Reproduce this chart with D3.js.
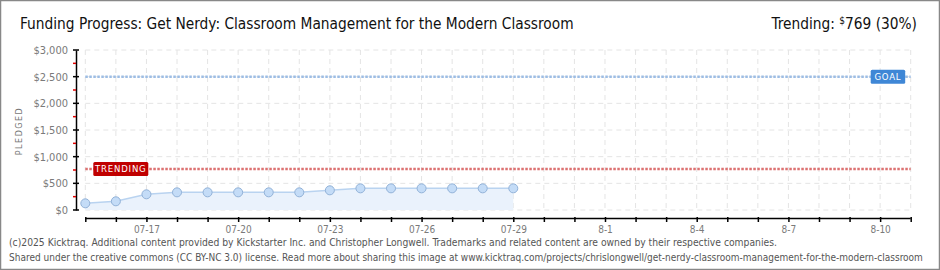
<!DOCTYPE html>
<html><head><meta charset="utf-8">
<script src="https://cdn.jsdelivr.net/npm/d3@7"></script>
<style>body{margin:0;background:#fff}svg{display:block}</style>
</head><body>
<svg id="c" width="940" height="270"></svg>
<script>
const dates = ["07-15","07-16","07-17","07-18","07-19","07-20","07-21","07-22","07-23","07-24","07-25","07-26","07-27","07-28","07-29"];
const pledged = [125,163,294,331,331,331,331,331,369,406,406,406,406,406,406];
const goal = 2500;
const trending = 769;
const yTicks = [0,500,1000,1500,2000,2500,3000];
const xTickLabels = ["07-17","07-20","07-23","07-26","07-29","8-1","8-4","8-7","8-10"];
const title = "Funding Progress: Get Nerdy: Classroom Management for the Modern Classroom";
const footer1 = "(c)2025 Kicktraq. Additional content provided by Kickstarter Inc. and Christopher Longwell. Trademarks and related content are owned by their respective companies.";
const footer2 = "Shared under the creative commons (CC BY-NC 3.0) license. Read more about sharing this image at www.kicktraq.com/projects/chrislongwell/get-nerdy-classroom-management-for-the-modern-classroom";

const svg = d3.select("#c");
const parse = s => { const [m,d] = s.split("-").map(Number); return new Date(2025, m-1, d); };
const x = d3.scaleTime().domain([new Date(2025,6,15), new Date(2025,7,11)]).range([85.3, 910.7]);
const y = d3.scaleLinear().domain([0,3000]).range([210,50]);

svg.append("rect").attr("x",0.5).attr("y",0.5).attr("width",939).attr("height",269)
  .attr("fill","#fff").attr("stroke","#888").attr("stroke-width",1.5);

// grid
const days = d3.timeDay.range(new Date(2025,6,15), new Date(2025,7,12));
svg.append("g").selectAll("line").data(days).join("line")
  .attr("x1",d=>x(d)).attr("x2",d=>x(d)).attr("y1",50).attr("y2",210)
  .attr("stroke","#e4e4e4").attr("stroke-dasharray","5,4");
svg.append("g").selectAll("line").data(yTicks).join("line")
  .attr("x1",85.3).attr("x2",910.7).attr("y1",d=>y(d)).attr("y2",d=>y(d))
  .attr("stroke","#e4e4e4").attr("stroke-dasharray","5,4");

// area + line
const pts = dates.map((d,i)=>({d:parse(d), v:pledged[i]}));
svg.append("path").datum(pts)
  .attr("d", d3.area().x(p=>x(p.d)).y0(y(0)).y1(p=>y(p.v)))
  .attr("fill","#eaf2fc");
svg.append("path").datum(pts)
  .attr("d", d3.line().x(p=>x(p.d)).y(p=>y(p.v)))
  .attr("fill","none").attr("stroke","#b9d3f0").attr("stroke-width",1.5);

// goal / trending lines
svg.append("line").attr("x1",85.3).attr("x2",910.7).attr("y1",y(goal)).attr("y2",y(goal))
  .attr("stroke","#9dbde4").attr("stroke-width",2.5).attr("stroke-dasharray","2.5,1.5");
svg.append("line").attr("x1",85.3).attr("x2",910.7).attr("y1",y(trending)).attr("y2",y(trending))
  .attr("stroke","#dc7272").attr("stroke-width",2.5).attr("stroke-dasharray","2.5,1.5");

// points
svg.append("g").selectAll("circle").data(pts).join("circle")
  .attr("cx",p=>x(p.d)).attr("cy",p=>y(p.v)).attr("r",4.5)
  .attr("fill","#c4dcf7").attr("stroke","#92b2d8").attr("stroke-width",1);

// labels on lines
function tag(xl, yc, w, txt, col){
  const g = svg.append("g");
  g.append("rect").attr("x",xl).attr("y",yc-7).attr("width",w).attr("height",14).attr("rx",1.5).attr("fill",col);
  g.append("text").attr("x",xl+w/2).attr("y",yc+3.5).attr("text-anchor","middle").attr("fill","#fff")
    .attr("font-family","DejaVu Sans Condensed, sans-serif").attr("font-size",9.5).attr("letter-spacing",0.8).text(txt);
}
tag(870.7, y(goal), 34.5, "GOAL", "#3f87d6");
tag(93.3, y(trending), 55, "TRENDING", "#c00000");

// y axis
const yAxis = d3.axisLeft(y).tickValues(yTicks).tickSize(0).tickPadding(8).tickFormat(d=>"$"+d3.format(",")(d));
const ya = svg.append("g").attr("transform","translate(76,0)").call(yAxis);
ya.select(".domain").attr("stroke","#000").attr("stroke-width",1.5);
ya.selectAll("text").attr("fill","#7a7a7a").attr("font-family","DejaVu Sans Condensed, sans-serif").attr("font-size",11);
svg.append("g").selectAll("line").data(yTicks).join("line")
  .attr("x1",73).attr("x2",79).attr("y1",d=>y(d)).attr("y2",d=>y(d)).attr("stroke","#000").attr("stroke-width",1.5);
svg.append("g").selectAll("line").data(d3.range(250,3000,500)).join("line")
  .attr("x1",73).attr("x2",76).attr("y1",d=>y(d)).attr("y2",d=>y(d)).attr("stroke","#e00000").attr("stroke-width",1.5);

svg.append("text").attr("transform","translate(22,131) rotate(-90)").attr("text-anchor","middle")
  .attr("fill","#777").attr("font-family","DejaVu Sans, sans-serif").attr("font-size",8).attr("letter-spacing",1.5).text("PLEDGED");

// x axis
const labelSet = new Set(xTickLabels);
const fmt = d => { const m=d.getMonth()+1, dd=d.getDate(); return m===7 ? "07-"+String(dd).padStart(2,"0") : m+"-"+dd; };
const xAxis = d3.axisBottom(x).tickValues(days).tickSize(4).tickPadding(4)
  .tickFormat(d => labelSet.has(fmt(d)) ? fmt(d) : "");
const xa = svg.append("g").attr("transform","translate(0,218)").call(xAxis);
xa.select(".domain").attr("d","M85.3,0.5H910.7").attr("stroke","#000").attr("stroke-width",1.5);
xa.selectAll(".tick line").attr("y1",-1).attr("y2",4).attr("stroke","#000").attr("stroke-width",1.5);
xa.selectAll("text").attr("fill","#7a7a7a").attr("font-family","DejaVu Sans Condensed, sans-serif").attr("font-size",10);

// titles
svg.append("text").attr("x",20).attr("y",29).attr("fill","#111")
  .attr("font-family","DejaVu Sans Condensed, sans-serif").attr("font-size",15.3).text(title);
const tr = svg.append("text").attr("x",917).attr("y",29).attr("text-anchor","end").attr("fill","#111")
  .attr("font-family","DejaVu Sans Condensed, sans-serif").attr("font-size",15.3);
tr.append("tspan").text("Trending:  ");
tr.append("tspan").attr("font-size",10).attr("dy",-5).text("$");
tr.append("tspan").attr("dy",5).text(d3.format(",")(trending)+" (30%)");

svg.append("text").attr("x",9).attr("y",246).attr("fill","#555")
  .attr("font-family","DejaVu Sans Condensed, sans-serif").attr("font-size",10.25).text(footer1);
svg.append("text").attr("x",9).attr("y",261).attr("fill","#555")
  .attr("font-family","DejaVu Sans Condensed, sans-serif").attr("font-size",10).text(footer2);
</script>
</body></html>
